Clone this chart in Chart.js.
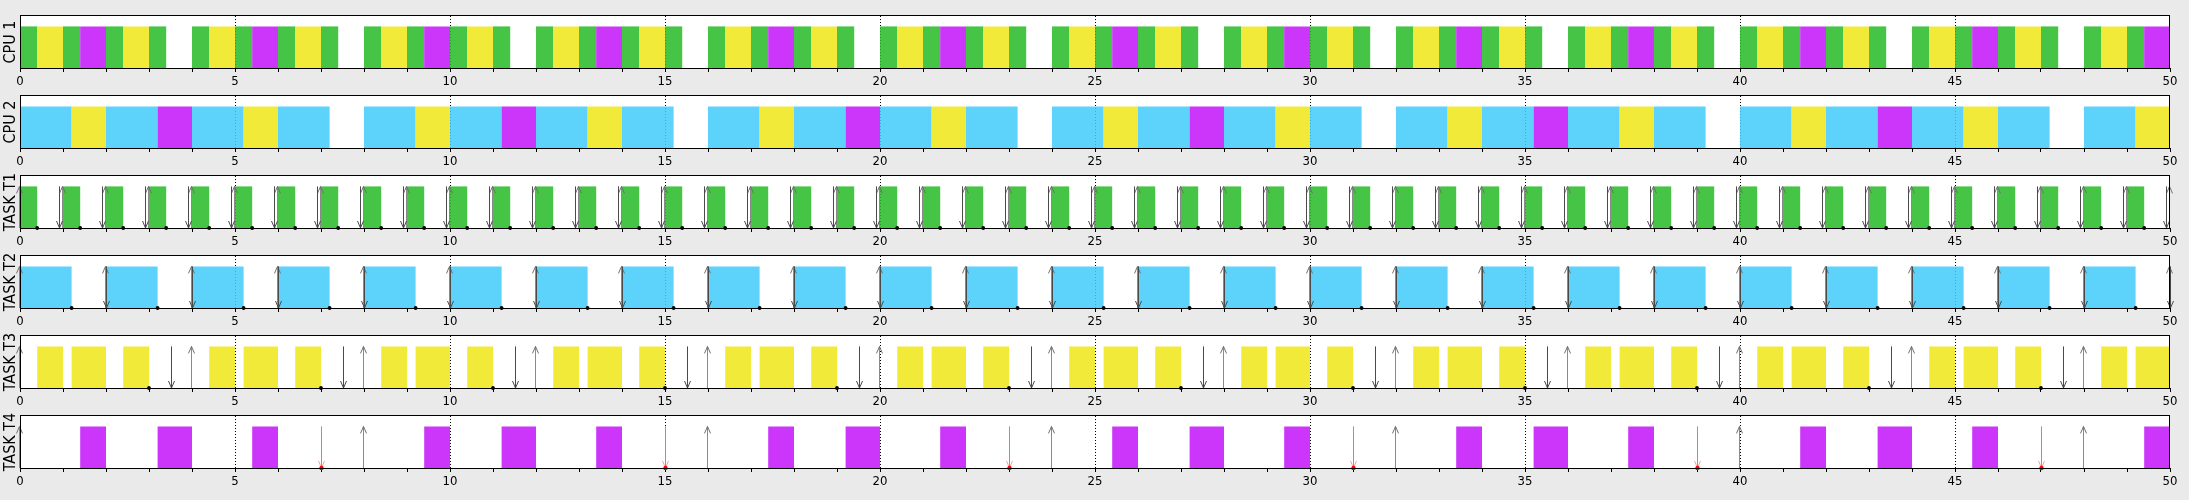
<!DOCTYPE html>
<html><head><meta charset="utf-8">
<script src="https://cdn.jsdelivr.net/npm/chart.js@4/dist/chart.umd.min.js"></script>
<style>
html,body{margin:0;padding:0;background:#eaeaea;}
#wrap{position:relative;width:2189px;height:500px;overflow:hidden;background:#eaeaea;}
#wrap canvas{position:absolute;left:0;}
</style></head><body><div id="wrap"></div>
<script>
// ---------- DATA ----------
const xTickLabels = [0,5,10,15,20,25,30,35,40,45,50];
const rowTitles = ['CPU 1','CPU 2','TASK T1','TASK T2','TASK T3','TASK T4'];

// execution intervals on CPU 1
const cpu1T1 = [[0,0.4],[1,1.4],[2,2.4],[3,3.4],[4,4.4],[5,5.4],[6,6.4],[7,7.4],[8,8.4],[9,9.4],[10,10.4],[11,11.4],[12,12.4],[13,13.4],[14,14.4],[15,15.4],[16,16.4],[17,17.4],[18,18.4],[19,19.4],[20,20.4],[21,21.4],[22,22.4],[23,23.4],[24,24.4],[25,25.4],[26,26.4],[27,27.4],[28,28.4],[29,29.4],[30,30.4],[31,31.4],[32,32.4],[33,33.4],[34,34.4],[35,35.4],[36,36.4],[37,37.4],[38,38.4],[39,39.4],[40,40.4],[41,41.4],[42,42.4],[43,43.4],[44,44.4],[45,45.4],[46,46.4],[47,47.4],[48,48.4],[49,49.4]];
const cpu1T3 = [[0.4,1],[2.4,3],[4.4,5],[6.4,7],[8.4,9],[10.4,11],[12.4,13],[14.4,15],[16.4,17],[18.4,19],[20.4,21],[22.4,23],[24.4,25],[26.4,27],[28.4,29],[30.4,31],[32.4,33],[34.4,35],[36.4,37],[38.4,39],[40.4,41],[42.4,43],[44.4,45],[46.4,47],[48.4,49]];
const cpu1T4 = [[1.4,2],[5.4,6],[9.4,10],[13.4,14],[17.4,18],[21.4,22],[25.4,26],[29.4,30],[33.4,34],[37.4,38],[41.4,42],[45.4,46],[49.4,50]];
// execution intervals on CPU 2
const cpu2T2 = [[0,1.2],[2,3.2],[4,5.2],[6,7.2],[8,9.2],[10,11.2],[12,13.2],[14,15.2],[16,17.2],[18,19.2],[20,21.2],[22,23.2],[24,25.2],[26,27.2],[28,29.2],[30,31.2],[32,33.2],[34,35.2],[36,37.2],[38,39.2],[40,41.2],[42,43.2],[44,45.2],[46,47.2],[48,49.2]];
const cpu2T3 = [[1.2,2],[5.2,6],[9.2,10],[13.2,14],[17.2,18],[21.2,22],[25.2,26],[29.2,30],[33.2,34],[37.2,38],[41.2,42],[45.2,46],[49.2,50]];
const cpu2T4 = [[3.2,4],[11.2,12],[19.2,20],[27.2,28],[35.2,36],[43.2,44]];

// releases (up arrows), deadlines (down arrows), completions (dots), misses (red)
const t1Release  = [0,1,2,3,4,5,6,7,8,9,10,11,12,13,14,15,16,17,18,19,20,21,22,23,24,25,26,27,28,29,30,31,32,33,34,35,36,37,38,39,40,41,42,43,44,45,46,47,48,49,50];
const t1Deadline = [0.9,1.9,2.9,3.9,4.9,5.9,6.9,7.9,8.9,9.9,10.9,11.9,12.9,13.9,14.9,15.9,16.9,17.9,18.9,19.9,20.9,21.9,22.9,23.9,24.9,25.9,26.9,27.9,28.9,29.9,30.9,31.9,32.9,33.9,34.9,35.9,36.9,37.9,38.9,39.9,40.9,41.9,42.9,43.9,44.9,45.9,46.9,47.9,48.9,49.9];
const t1Done     = [0.4,1.4,2.4,3.4,4.4,5.4,6.4,7.4,8.4,9.4,10.4,11.4,12.4,13.4,14.4,15.4,16.4,17.4,18.4,19.4,20.4,21.4,22.4,23.4,24.4,25.4,26.4,27.4,28.4,29.4,30.4,31.4,32.4,33.4,34.4,35.4,36.4,37.4,38.4,39.4,40.4,41.4,42.4,43.4,44.4,45.4,46.4,47.4,48.4,49.4];
const t2Release  = [0,2,4,6,8,10,12,14,16,18,20,22,24,26,28,30,32,34,36,38,40,42,44,46,48,50];
const t2Deadline = [2,4,6,8,10,12,14,16,18,20,22,24,26,28,30,32,34,36,38,40,42,44,46,48,50];
const t2Done     = [1.2,3.2,5.2,7.2,9.2,11.2,13.2,15.2,17.2,19.2,21.2,23.2,25.2,27.2,29.2,31.2,33.2,35.2,37.2,39.2,41.2,43.2,45.2,47.2,49.2];
const t3Release  = [0,4,8,12,16,20,24,28,32,36,40,44,48];
const t3Deadline = [3.5,7.5,11.5,15.5,19.5,23.5,27.5,31.5,35.5,39.5,43.5,47.5];
const t3Done     = [3,7,11,15,19,23,27,31,35,39,43,47];
const t4Release  = [0,8,16,24,32,40,48];
const t4Miss     = [7,15,23,31,39,47];

// ---------- STYLE ----------
const taskColor = {
  T1: 'rgba(40,186,40,0.86)',
  T2: 'rgba(66,203,249,0.86)',
  T3: 'rgba(240,230,23,0.86)',
  T4: 'rgba(195,21,249,0.86)'
};
const FONT = "'DejaVu Sans Condensed', 'DejaVu Sans', sans-serif";

const rows = [
  { title: rowTitles[0], bars: [[cpu1T1,'T1'],[cpu1T3,'T3'],[cpu1T4,'T4']] },
  { title: rowTitles[1], bars: [[cpu2T2,'T2'],[cpu2T3,'T3'],[cpu2T4,'T4']] },
  { title: rowTitles[2], bars: [[cpu1T1,'T1']], ups: t1Release, downs: t1Deadline, dots: t1Done },
  { title: rowTitles[3], bars: [[cpu2T2,'T2']], ups: t2Release, downs: t2Deadline, dots: t2Done },
  { title: rowTitles[4], bars: [[cpu1T3,'T3'],[cpu2T3,'T3']], ups: t3Release, downs: t3Deadline, dots: t3Done },
  { title: rowTitles[5], bars: [[cpu1T4,'T4'],[cpu2T4,'T4']], ups: t4Release, misses: t4Miss }
];

function drawArrow(ctx, x, yTop, yBot, dir, shaft, head) {
  ctx.save();
  ctx.lineWidth = 1;
  ctx.strokeStyle = shaft;
  ctx.beginPath(); ctx.moveTo(x, yTop); ctx.lineTo(x, yBot); ctx.stroke();
  const tip = dir === 'up' ? yTop : yBot;
  const s = dir === 'up' ? 1 : -1;
  ctx.strokeStyle = head;
  ctx.beginPath();
  ctx.moveTo(x - 3, tip + s * 7); ctx.lineTo(x, tip); ctx.lineTo(x + 3, tip + s * 7);
  ctx.stroke();
  ctx.restore();
}

function makePlugin(row) {
  return {
    id: 'gantt',
    beforeDraw(chart) {
      const a = chart.chartArea, ctx = chart.ctx;
      ctx.save(); ctx.fillStyle = '#ffffff';
      ctx.fillRect(a.left, a.top, a.right - a.left, a.bottom - a.top);
      ctx.restore();
    },
    afterDatasetsDraw(chart) {
      const ctx = chart.ctx, xs = chart.scales.x, ys = chart.scales.y;
      const yTop = ys.getPixelForValue(1), yBot = ys.getPixelForValue(0);
      const px = v => Math.round(xs.getPixelForValue(v)) + 0.5;
      (row.ups || []).forEach(v => drawArrow(ctx, px(v) - 1, yTop, yBot, 'up', '#8a8a8a', '#707070'));
      (row.downs || []).forEach(v => drawArrow(ctx, px(v), yTop, yBot, 'down', '#4a4a4a', '#4a4a4a'));
      (row.misses || []).forEach(v => {
        drawArrow(ctx, px(v), yTop, yBot, 'down', '#ff6a6a', '#ff9a9a');
        ctx.save(); ctx.fillStyle = '#ff0000';
        ctx.beginPath(); ctx.arc(px(v), yBot, 2.2, 0, Math.PI * 2); ctx.fill(); ctx.restore();
      });
      (row.dots || []).forEach(v => {
        ctx.save(); ctx.fillStyle = '#000';
        ctx.beginPath(); ctx.arc(xs.getPixelForValue(v), yBot, 1.9, 0, Math.PI * 2); ctx.fill(); ctx.restore();
      });
    },
    afterDraw(chart) {
      const a = chart.chartArea, ctx = chart.ctx;
      ctx.save(); ctx.strokeStyle = '#000'; ctx.lineWidth = 1;
      ctx.strokeRect(Math.round(a.left) + 0.5, Math.round(a.top) - 0.5,
                     Math.round(a.right - a.left) - 1, Math.round(a.bottom - a.top) + 1);
      ctx.restore();
    }
  };
}

const wrap = document.getElementById('wrap');
rows.forEach((row, i) => {
  const cv = document.createElement('canvas');
  cv.width = 2189; cv.height = 84;
  cv.style.top = (6 + 80 * i) + 'px';
  cv.style.width = '2189px'; cv.style.height = '84px';
  wrap.appendChild(cv);

  const data = [], colors = [];
  row.bars.forEach(([segs, task]) => segs.forEach(seg => {
    data.push({ x: seg, y: 0.5 });
    colors.push(taskColor[task]);
  }));

  new Chart(cv, {
    type: 'bar',
    data: { datasets: [{ data, backgroundColor: colors, borderWidth: 0, inflateAmount: 0,
                         barThickness: c => {
                           const y = c.chart.scales.y;
                           return y ? Math.abs(y.getPixelForValue(0) - y.getPixelForValue(1)) : 42;
                         } }] },
    options: {
      responsive: false, animation: false, devicePixelRatio: 1,
      indexAxis: 'y',
      layout: { padding: { top: 10, right: 19, left: 0, bottom: 0 } },
      plugins: { legend: { display: false }, tooltip: { enabled: false } },
      scales: {
        x: {
          type: 'linear', position: 'bottom', min: 0, max: 50, offset: false,
          afterFit: a => { a.height = 22; },
          ticks: { stepSize: 1, maxTicksLimit: 60, autoSkip: false, maxRotation: 0, minRotation: 0,
                   padding: 2, color: '#000', font: { family: FONT, size: 13 },
                   callback: v => xTickLabels.includes(v) ? String(v) : '' },
          grid: {
            offset: false,
            color: c => (c.tick && xTickLabels.includes(c.tick.value) && c.tick.value > 0 && c.tick.value < 50) ? '#000' : 'rgba(0,0,0,0)',
            lineWidth: 1, drawTicks: true, tickLength: 4, tickColor: '#000', tickWidth: 1
          },
          border: { display: false, dash: [1, 2] }
        },
        y: {
          type: 'linear', min: 0, max: 1.25, offset: false,
          afterBuildTicks: a => { a.ticks = [{ value: 0 }, { value: 1.25 }]; },
          afterFit: a => { a.width = 20; },
          ticks: { display: false },
          grid: { display: false, offset: false },
          border: { display: false },
          title: { display: true, text: row.title, color: '#000',
                   font: { family: FONT, size: 16 }, padding: { top: 1, bottom: 0 } }
        }
      }
    },
    plugins: [makePlugin(row)]
  });
});
</script>
</body></html>
